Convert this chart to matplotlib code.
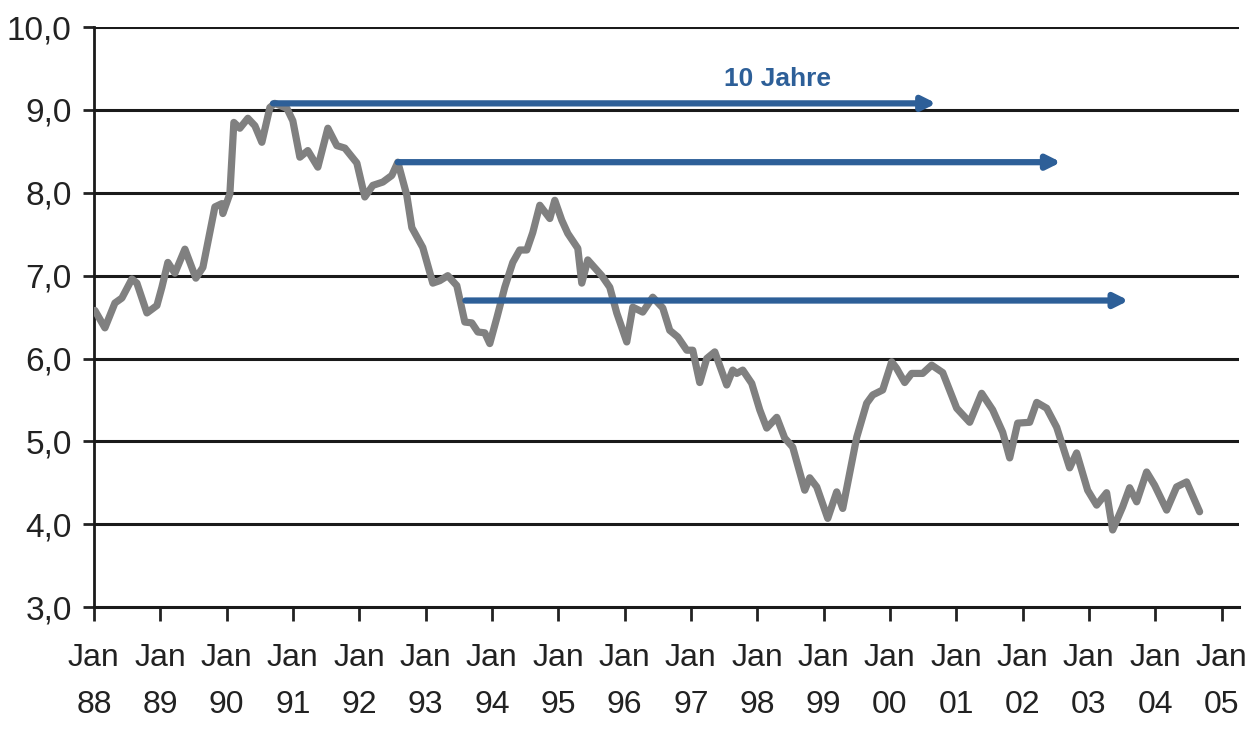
import numpy as np
import matplotlib.pyplot as plt

plt.rcParams['font.family'] = ['Liberation Sans', 'DejaVu Sans']

# yield series, date as decimal year
dates = [1988.015, 1988.166, 1988.317, 1988.422, 1988.573, 1988.648, 1988.799, 1988.950,
         1989.025, 1989.115, 1989.221, 1989.372, 1989.537, 1989.643, 1989.824, 1989.929,
         1989.944, 1990.050, 1990.110, 1990.200, 1990.321, 1990.427, 1990.532, 1990.653,
         1990.728, 1990.909, 1990.999, 1991.105, 1991.225, 1991.376, 1991.527, 1991.662,
         1991.783, 1991.964, 1992.084, 1992.205, 1992.356, 1992.491, 1992.582, 1992.717,
         1992.793, 1992.958, 1993.109, 1993.215, 1993.335, 1993.471, 1993.592, 1993.697,
         1993.788, 1993.893, 1993.968, 1994.074, 1994.194, 1994.315, 1994.420, 1994.526,
         1994.616, 1994.722, 1994.873, 1994.948, 1995.053, 1995.144, 1995.295, 1995.355,
         1995.445, 1995.656, 1995.777, 1995.882, 1996.033, 1996.124, 1996.274, 1996.425,
         1996.576, 1996.681, 1996.802, 1996.938, 1997.028, 1997.133, 1997.239, 1997.360,
         1997.540, 1997.631, 1997.691, 1997.782, 1997.917, 1998.038, 1998.143, 1998.294,
         1998.414, 1998.535, 1998.716, 1998.791, 1998.897, 1999.063, 1999.198, 1999.289,
         1999.500, 1999.650, 1999.741, 1999.891, 2000.027, 2000.102, 2000.223, 2000.328,
         2000.494, 2000.630, 2000.796, 2001.007, 2001.203, 2001.383, 2001.549, 2001.700,
         2001.806, 2001.926, 2002.107, 2002.213, 2002.363, 2002.514, 2002.710, 2002.815,
         2002.981, 2003.117, 2003.267, 2003.358, 2003.509, 2003.614, 2003.720, 2003.870,
         2003.991, 2004.172, 2004.322, 2004.473, 2004.669]
yields = [6.58, 6.37, 6.67, 6.73, 6.96, 6.91, 6.55, 6.64,
          6.86, 7.16, 7.03, 7.32, 6.97, 7.10, 7.83, 7.87,
          7.75, 7.99, 8.85, 8.78, 8.90, 8.81, 8.61, 9.03,
          9.08, 9.02, 8.87, 8.43, 8.51, 8.31, 8.78, 8.57,
          8.54, 8.36, 7.95, 8.09, 8.13, 8.21, 8.37, 7.97,
          7.58, 7.34, 6.91, 6.94, 7.00, 6.88, 6.44, 6.43,
          6.32, 6.31, 6.18, 6.49, 6.86, 7.16, 7.31, 7.31,
          7.52, 7.85, 7.69, 7.91, 7.67, 7.51, 7.33, 6.91,
          7.19, 7.00, 6.86, 6.55, 6.20, 6.62, 6.56, 6.74,
          6.61, 6.34, 6.26, 6.10, 6.10, 5.71, 6.00, 6.08,
          5.68, 5.86, 5.82, 5.86, 5.70, 5.38, 5.16, 5.29,
          5.04, 4.93, 4.41, 4.56, 4.45, 4.07, 4.39, 4.19,
          5.05, 5.46, 5.56, 5.62, 5.96, 5.88, 5.71, 5.82,
          5.82, 5.92, 5.83, 5.40, 5.23, 5.58, 5.38, 5.11,
          4.80, 5.22, 5.23, 5.47, 5.40, 5.17, 4.68, 4.86,
          4.41, 4.23, 4.38, 3.93, 4.21, 4.44, 4.27, 4.63,
          4.47, 4.17, 4.45, 4.51, 4.15]

# ten-year horizons: start date and level
arrow_start = [1990.70, 1992.58, 1993.60]
arrow_level = [9.08, 8.37, 6.70]
horizon = 10

years = list(range(1988, 2006))
xlabels = ['Jan\n%02d' % (y % 100) for y in years]
yticks = [3, 4, 5, 6, 7, 8, 9, 10]

fig = plt.figure(figsize=(12.52, 7.34), dpi=100)
ax = fig.add_axes([0.075, 0.173, 0.915, 0.79])

for v in yticks[1:]:
    ax.axhline(v, color='#1a1a1a', lw=2.2, zorder=1)

ax.plot(dates, yields, color='#808080', lw=5.2, solid_joinstyle='round',
        solid_capstyle='round', zorder=3)

for x0, lvl in zip(arrow_start, arrow_level):
    ax.annotate('', xy=(x0 + horizon, lvl), xytext=(x0, lvl),
                arrowprops=dict(arrowstyle='-|>,head_length=0.8,head_width=0.4',
                                color='#2d5f98', lw=4.5, shrinkA=0, shrinkB=0),
                zorder=4)

ax.text(1998.3, 9.38, '10 Jahre', color='#2d5f98', fontsize=19,
        fontweight='bold', ha='center', va='center')

ax.set_xlim(1988, 2005.27)
ax.set_ylim(3, 10)
ax.set_xticks(years)
ax.set_xticklabels(xlabels, fontsize=23, linespacing=1.75)
ax.set_yticks(yticks)
ax.set_yticklabels(['%d,0' % v for v in yticks], fontsize=24)
ax.tick_params(axis='x', direction='out', length=10, width=2, pad=16, colors='#222222')
ax.tick_params(axis='y', direction='out', length=8, width=2, pad=8, colors='#222222')

for s in ['top', 'right']:
    ax.spines[s].set_visible(False)
ax.spines['left'].set_linewidth(2)
ax.spines['bottom'].set_linewidth(2.2)
ax.spines['left'].set_color('#1a1a1a')
ax.spines['bottom'].set_color('#1a1a1a')

fig.savefig('out.png', dpi=100)
